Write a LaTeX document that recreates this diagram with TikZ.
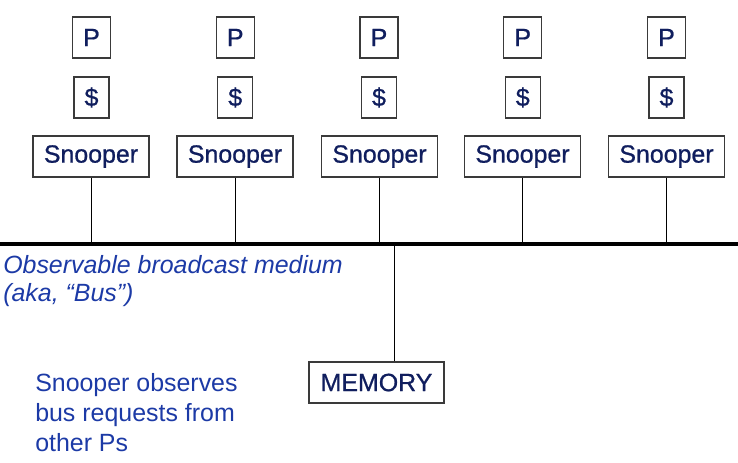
\documentclass[tikz,border=0pt]{standalone}
\usepackage{fontspec}
\setmainfont{Liberation Sans}
\newfontfamily\boxfont[FakeBold=0.8]{Liberation Sans}
\definecolor{navy}{HTML}{101E5E}
\definecolor{noteblue}{HTML}{1C3AA6}
\definecolor{boxgray}{HTML}{3A3A3A}
\begin{document}
\begin{tikzpicture}[x=0.75pt,y=-0.75pt,
  box/.style={draw=boxgray, line width=0.8pt, fill=white, inner sep=0pt,
    minimum height=30.75pt, text=navy, font=\boxfont\fontsize{18.7}{20}\selectfont},
  pbox/.style={box, minimum width=28.5pt},
  cbox/.style={box, minimum width=26.25pt},
  sbox/.style={box, minimum width=87pt},
  mbox/.style={box, minimum width=101.25pt},
  wire/.style={draw=black, line width=0.75pt},
  bus/.style={draw=black, line width=3pt},
  note/.style={text=noteblue, inner sep=0pt, anchor=north west, align=left}]
\useasboundingbox (0,0) rectangle (738,462);

\foreach \i/\px/\sx in {1/91.5/91, 2/235.25/235, 3/379/379.5, 4/522.75/522.5, 5/666.5/666.5} {
  \node[pbox] (p\i) at (\px,37.5) {P};
  \node[cbox] (c\i) at (\px,97.5) {\$};
  \node[sbox] (s\i) at (\sx,156.5) {Snooper};
}
\node[mbox] (mem) at (376.5,382.5) {MEMORY};

\coordinate (busL) at (0,243.5);
\coordinate (busR) at (738,243.5);
\coordinate (mtap) at (394,243.5);

\foreach \i in {1,...,5} {
  \draw[wire] (s\i.south) -- (s\i.south |- busL);
}
\draw[wire] (mtap) -- (mtap |- mem.north);
\draw[bus] (busL) -- (busR);

\node[note, font=\itshape\fontsize{18.7}{21}\selectfont] (medium) at (3,255)
  {Observable broadcast medium\\(aka, “Bus”)};
\node[note, font=\fontsize{18.7}{22.5}\selectfont] (obs) at (35,373)
  {Snooper observes\\bus requests from\\other Ps};
\end{tikzpicture}
\end{document}
